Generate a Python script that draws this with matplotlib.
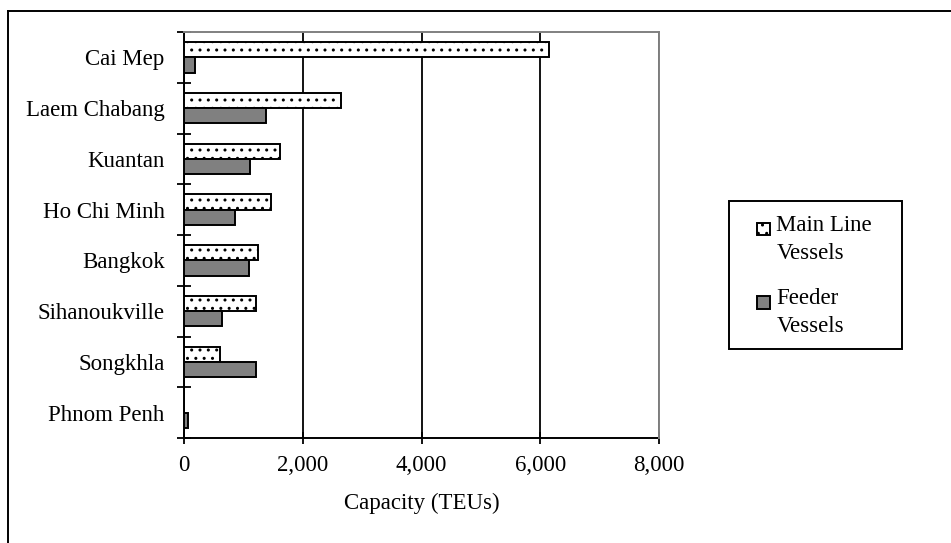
import matplotlib.pyplot as plt
from matplotlib.lines import Line2D
from matplotlib.patches import Rectangle
from matplotlib.container import BarContainer
from matplotlib.legend_handler import HandlerPatch, update_from_first_child
from matplotlib.ticker import FixedLocator, FuncFormatter

ports = ["Cai Mep", "Laem Chabang", "Kuantan", "Ho Chi Minh",
         "Bangkok", "Sihanoukville", "Songkhla", "Phnom Penh"]
main_line = [6150, 2640, 1620, 1460, 1245, 1215, 605, 0]
feeder = [190, 1380, 1110, 860, 1090, 640, 1215, 70]
x_ticks = [0, 2000, 4000, 6000, 8000]

plt.rcParams['font.family'] = ['Liberation Serif', 'DejaVu Serif']
plt.rcParams['hatch.linewidth'] = 1.0
plt.rcParams['hatch.color'] = '#222222'

fs = 16.5
fig = plt.figure(figsize=(9.51, 5.43), dpi=100)
ax = fig.add_axes([184 / 951, 1 - 438 / 543, (659 - 184) / 951, (438 - 32) / 543])

pos = list(range(len(ports)))
h = 0.3
ax.barh([p - h / 2 for p in pos], main_line, height=h, color='white',
        edgecolor='black', linewidth=1.4, hatch='..', label="Main Line\nVessels", zorder=3)
ax.barh([p + h / 2 for p in pos], feeder, height=h, color='#808080',
        edgecolor='black', linewidth=1.4, label="Feeder\nVessels", zorder=3)

ax.set_xlim(0, 8000)
ax.set_ylim(len(ports) - 0.5, -0.5)

ax.set_xticks(x_ticks)
ax.xaxis.set_major_formatter(FuncFormatter(lambda v, _: f"{int(v):,}"))
ax.tick_params(axis='x', direction='inout', length=8, width=1.3, pad=8, labelsize=fs)

ax.set_yticks(pos)
ax.set_yticklabels(ports)
ax.tick_params(axis='y', which='major', length=0, pad=14, labelsize=fs)
ax.yaxis.set_minor_locator(FixedLocator([p - 0.5 for p in pos] + [len(ports) - 0.5]))
ax.tick_params(axis='y', which='minor', direction='inout', length=10, width=1.3)

ax.set_axisbelow(True)
ax.xaxis.grid(True, color='black', linewidth=1.3)

for s in ['left', 'bottom']:
    ax.spines[s].set_color('black')
    ax.spines[s].set_linewidth(1.4)
for s in ['top', 'right']:
    ax.spines[s].set_color('#808080')
    ax.spines[s].set_linewidth(1.4)
    ax.spines[s].set_zorder(2.6)

ax.set_xlabel("Capacity (TEUs)", fontsize=fs, labelpad=12)


def top_square(legend, orig_handle, xdescent, ydescent, width, height, fontsize):
    sq = 0.55 * fontsize
    return Rectangle((-xdescent, -ydescent + height - sq - 0.22 * fontsize), sq, sq)


leg = ax.legend(loc='upper left', bbox_to_anchor=(757 / 951, 1 - 215 / 543),
                bbox_transform=fig.transFigure, frameon=False, fontsize=fs,
                borderpad=0, borderaxespad=0, handlelength=0.55, handleheight=2.7,
                handletextpad=0.3, labelspacing=1.05,
                handler_map={BarContainer: HandlerPatch(patch_func=top_square,
                                                        update_func=update_from_first_child)})
for t in leg.get_texts():
    t.set_linespacing(1.45)

# legend box and outer frame
fig.add_artist(Rectangle((729 / 951, 1 - 349 / 543), (902 - 729) / 951, (349 - 201) / 543,
                         transform=fig.transFigure, fill=False, edgecolor='black', linewidth=1.4))
fig.add_artist(Line2D([8 / 951, 8 / 951], [0, 1 - 11 / 543], transform=fig.transFigure,
                      color='black', linewidth=1.4))
fig.add_artist(Line2D([8 / 951, 1], [1 - 11 / 543, 1 - 11 / 543], transform=fig.transFigure,
                      color='black', linewidth=1.4))

fig.savefig("out.png", dpi=100)
